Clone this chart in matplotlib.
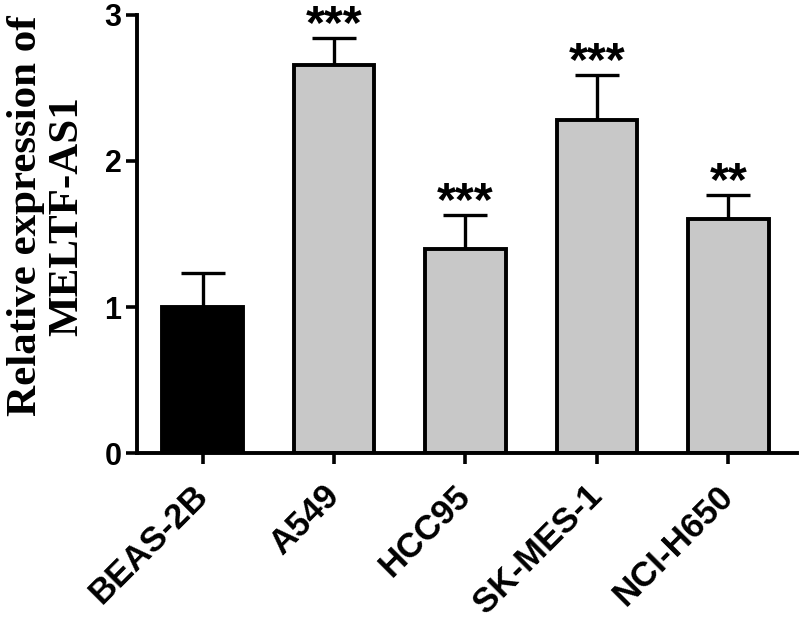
import matplotlib
matplotlib.use("Agg")
import matplotlib.pyplot as plt

cell_lines = ["BEAS-2B", "A549", "HCC95", "SK-MES-1", "NCI-H650"]
means = [1.00, 2.66, 1.40, 2.28, 1.60]
sems = [0.23, 0.18, 0.23, 0.31, 0.17]
stars = ["", "***", "***", "***", "**"]
bar_colors = ["black", "#c8c8c8", "#c8c8c8", "#c8c8c8", "#c8c8c8"]

fig = plt.figure(figsize=(8, 6.19), dpi=100)
ax = fig.add_axes([0.171, 0.268, 0.825, 0.708])

x = list(range(len(cell_lines)))
ax.errorbar(x, means, yerr=[[0] * len(sems), sems], fmt="none", ecolor="black",
            elinewidth=2.4, capsize=15.5, capthick=2.4, zorder=1)
ax.bar(x, means, width=0.61, color=bar_colors, edgecolor="black", linewidth=2.8, zorder=2)

for xi, m, s, label in zip(x, means, sems, stars):
    if label:
        ax.annotate(label, (xi, m + s), xytext=(0, 0), textcoords="offset points",
                    ha="center", va="baseline", fontsize=35, fontweight="bold",
                    family="Liberation Sans", annotation_clip=False)

ax.set_xlim(-0.5, 4.52)
ax.set_ylim(0, 3)
ax.set_yticks([0, 1, 2, 3])
ax.set_xticks(x)
ax.set_xticklabels(cell_lines, rotation=45, ha="right", va="center", rotation_mode="anchor")

for lab in ax.get_xticklabels() + ax.get_yticklabels():
    lab.set_fontfamily("Liberation Sans")
    lab.set_fontweight("bold")
ax.tick_params(axis="x", labelsize=25, length=8, width=2.6, pad=19)
ax.tick_params(axis="y", labelsize=22, length=8, width=2.6, pad=3)

for side in ["top", "right"]:
    ax.spines[side].set_visible(False)
for side in ["left", "bottom"]:
    ax.spines[side].set_linewidth(2.8)

fig.text(0.058, 0.651, "Relative expression of\nMELTF-AS1", rotation=90,
         ha="center", va="center", fontsize=31, fontweight="bold",
         family="Liberation Serif", linespacing=1.1, multialignment="center")

fig.savefig("out.png", dpi=100)
